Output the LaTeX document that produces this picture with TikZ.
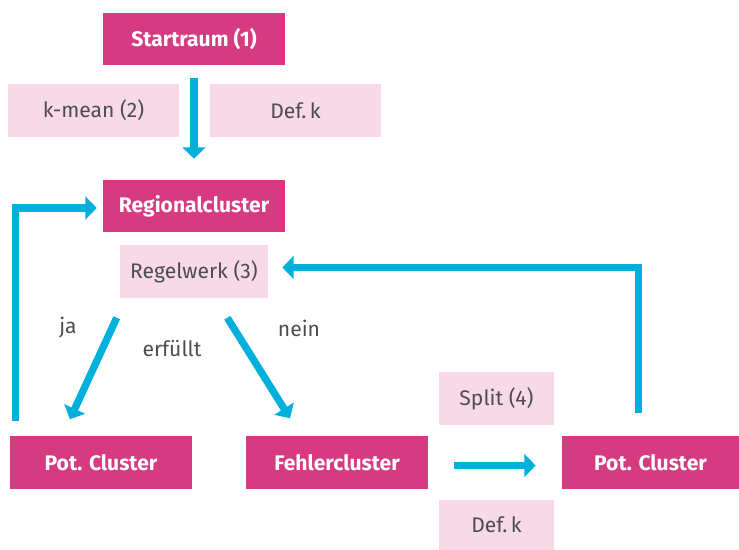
\documentclass[tikz,border=0pt]{standalone}
\usepackage{fontspec}
\setmainfont{Fira Sans}
\usetikzlibrary{arrows.meta,calc}
\definecolor{clmag}{HTML}{D63A80}
\definecolor{clrose}{HTML}{F7D9E7}
\definecolor{clflow}{HTML}{00B0DC}
\definecolor{cltext}{HTML}{4D4D4D}

\begin{document}
\begin{tikzpicture}[x=0.025cm,y=-0.025cm,
	hbox/.style={fill=clmag,text=white,font=\fontsize{15}{18}\selectfont\bfseries,minimum width=4.55cm,minimum height=1.3cm,inner sep=0pt},
	lbox/.style={fill=clrose,text=cltext,font=\fontsize{15}{18}\selectfont,minimum height=1.3cm,inner sep=0pt},
	lab/.style={text=cltext,font=\fontsize{15}{18}\selectfont},
	flow/.style={clflow,line width=5.2pt,-{Triangle[width=16pt,length=8pt]}}]
	\useasboundingbox (0,0) rectangle (739,550);
	\node[hbox] (start) at (194,39) {Startraum (1)};
	\node[hbox] (regio) at (194,206) {Regionalcluster};
	\node[hbox] (potl) at (101,462.5) {Pot. Cluster};
	\node[hbox] (fehler) at (337,462.5) {Fehlercluster};
	\node[hbox,minimum width=4.425cm] (potr) at (650.5,462.5) {Pot. Cluster};
	\foreach \nm/\x/\y/\w/\txt in {kmean/93.5/110.5/4.275/{k-mean (2)}, defk/295.5/110.5/4.275/{Def.\,k}, regel/194/271.5/3.7/{Regelwerk (3)}, split/496.5/398.5/2.875/{Split (4)}} {
		\node[lbox,minimum width=\w cm] (\nm) at (\x,\y) {\txt};
	}
	\node[lbox,minimum width=2.875cm,minimum height=1.25cm] (defkb) at (496.5,525) {Def.\,k};
	\node[lab] (ja) at (68,328) {ja};
	\node[lab] (erf) at (172,349) {erfüllt};
	\node[lab] (nein) at (299,328) {nein};
	\draw[flow,shorten <=0.325cm,shorten >=0.525cm] (start.south) -- (regio.north);
	\draw[flow] ($(regel.south west)+(-3,20)$) -- ($(potl.north)+(-31,-17)$);
	\draw[flow] ($(regel.south east)+(-41,20)$) -- ($(fehler.north)+(-47,-18)$);
	\draw[flow] ($(fehler.east)+(26,3)$) -- ($(potr.west)+(-26,3)$);
	\draw[flow] ($(potl.north west)+(6,-15)$) |- ($(regio.west)+(-6,2)$);
	\draw[flow] ($(potr.north)+(-12,-23)$) |- ($(regel.east)+(14,-4)$);
\end{tikzpicture}
\end{document}
